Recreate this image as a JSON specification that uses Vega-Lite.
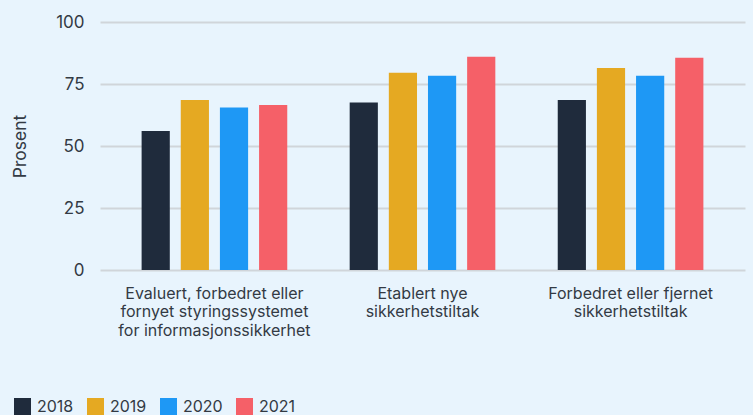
{
  "$schema": "https://vega.github.io/schema/vega-lite/v6.json",
  "width": 645,
  "height": 248,
  "autosize": {"type": "none"},
  "padding": {"left": 100, "top": 22, "right": 8, "bottom": 145},
  "background": "#e8f4fd",
  "data": {
    "values": [
      {"kategori": "Evaluert, forbedret eller\nfornyet styringssystemet\nfor informasjonssikkerhet", "år": "2018", "prosent": 56},
      {"kategori": "Evaluert, forbedret eller\nfornyet styringssystemet\nfor informasjonssikkerhet", "år": "2019", "prosent": 68.5},
      {"kategori": "Evaluert, forbedret eller\nfornyet styringssystemet\nfor informasjonssikkerhet", "år": "2020", "prosent": 65.5},
      {"kategori": "Evaluert, forbedret eller\nfornyet styringssystemet\nfor informasjonssikkerhet", "år": "2021", "prosent": 66.5},
      {"kategori": "Etablert nye\nsikkerhetstiltak", "år": "2018", "prosent": 67.5},
      {"kategori": "Etablert nye\nsikkerhetstiltak", "år": "2019", "prosent": 79.5},
      {"kategori": "Etablert nye\nsikkerhetstiltak", "år": "2020", "prosent": 78.3},
      {"kategori": "Etablert nye\nsikkerhetstiltak", "år": "2021", "prosent": 86},
      {"kategori": "Forbedret eller fjernet\nsikkerhetstiltak", "år": "2018", "prosent": 68.5},
      {"kategori": "Forbedret eller fjernet\nsikkerhetstiltak", "år": "2019", "prosent": 81.5},
      {"kategori": "Forbedret eller fjernet\nsikkerhetstiltak", "år": "2020", "prosent": 78.3},
      {"kategori": "Forbedret eller fjernet\nsikkerhetstiltak", "år": "2021", "prosent": 85.6}
    ]
  },
  "mark": {"type": "bar"},
  "encoding": {
    "x": {
      "field": "kategori",
      "type": "nominal",
      "sort": null,
      "scale": {"paddingInner": 0.3, "paddingOuter": 0.2},
      "axis": {
        "title": null,
        "labelAngle": 0,
        "labelExpr": "split(datum.label, '\\n')",
        "labelFontSize": 16,
        "labelLineHeight": 18.5,
        "labelColor": "#333a44",
        "labelPadding": 15,
        "domain": false,
        "ticks": false,
        "labelLimit": 300
      }
    },
    "xOffset": {
      "field": "år",
      "type": "nominal",
      "scale": {"paddingInner": 0.28, "paddingOuter": 0}
    },
    "y": {
      "field": "prosent",
      "type": "quantitative",
      "scale": {"domain": [0, 100]},
      "axis": {
        "title": "Prosent",
        "titleFontSize": 17.5,
        "titleFontWeight": "normal",
        "titleColor": "#333a44",
        "titlePadding": 26,
        "values": [0, 25, 50, 75, 100],
        "labelFontSize": 17,
        "labelColor": "#333a44",
        "labelPadding": 16,
        "domain": false,
        "ticks": false,
        "gridColor": "#d0d5da",
        "gridWidth": 1.8
      }
    },
    "color": {
      "field": "år",
      "type": "nominal",
      "scale": {
        "domain": ["2018", "2019", "2020", "2021"],
        "range": ["#1f2b3c", "#e5a922", "#1e98f5", "#f56068"]
      },
      "legend": {
        "title": null,
        "orient": "none",
        "direction": "horizontal",
        "legendX": -86,
        "legendY": 376,
        "symbolType": "square",
        "symbolSize": 289,
        "symbolStrokeWidth": 0,
        "labelFontSize": 16,
        "labelColor": "#333a44",
        "labelOffset": 6,
        "columnPadding": 13
      }
    }
  },
  "config": {
    "font": "Inter",
    "view": {"stroke": null}
  }
}
